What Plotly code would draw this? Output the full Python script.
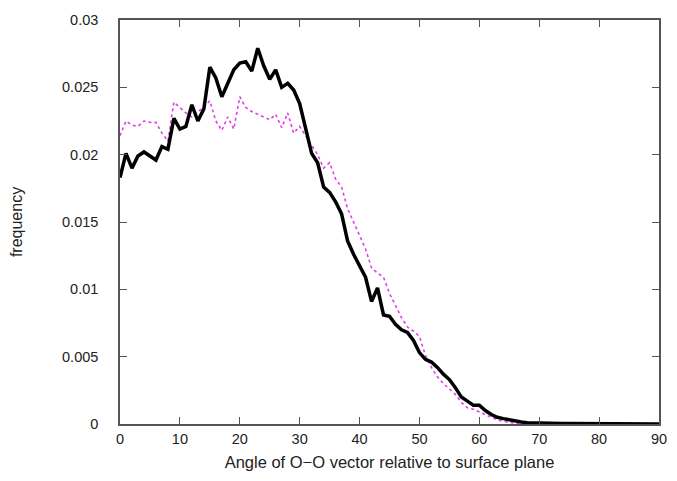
import plotly.graph_objects as go

angle = list(range(0, 91))

black_freq = [
    0.0183, 0.0201, 0.0190, 0.0199, 0.0202, 0.0199, 0.0196, 0.0206, 0.0204, 0.0227,
    0.0219, 0.0221, 0.0237, 0.0225, 0.0234, 0.0265, 0.0257, 0.0243, 0.0253, 0.0263,
    0.0268, 0.0269, 0.0262, 0.0279, 0.0266, 0.0256, 0.0263, 0.0250, 0.0253, 0.0248,
    0.0238, 0.0220, 0.0201, 0.0194, 0.0176, 0.0172, 0.0165, 0.0156, 0.0136, 0.0126,
    0.0117, 0.0109, 0.0091, 0.0101, 0.0081, 0.0080, 0.0074, 0.0070, 0.0068, 0.0062,
    0.0053, 0.0048, 0.0046, 0.0042, 0.0037, 0.0033, 0.0027, 0.0020, 0.0017, 0.0014,
    0.0014, 0.0010, 0.0007, 0.0005, 0.0004, 0.0003, 0.0002, 0.00015, 0.0001, 0.0001,
    0.0001, 0.00008, 0.00006, 0.00005, 0.00004, 0.00003, 0.00003, 0.00002, 0.00002, 0.00001,
    0.00001, 0.0, 0.0, 0.0, 0.0, 0.0, 0.0, 0.0, 0.0, 0.0, 0.0,
]

pink_freq = [
    0.0214, 0.0225, 0.0222, 0.0221, 0.0225, 0.0224, 0.0224, 0.0216, 0.0210, 0.0239,
    0.0235, 0.0231, 0.0228, 0.0232, 0.0235, 0.0240, 0.0225, 0.0218, 0.0228, 0.0219,
    0.0243, 0.0235, 0.0232, 0.0230, 0.0228, 0.0226, 0.0230, 0.0220, 0.0231, 0.0216,
    0.0221, 0.0214, 0.0208, 0.0200, 0.0190, 0.0194, 0.0182, 0.0176, 0.0160, 0.0150,
    0.0140, 0.0130, 0.0116, 0.0112, 0.0109, 0.0097, 0.0088, 0.0079, 0.0072, 0.0069,
    0.0065, 0.0051, 0.0042, 0.0035, 0.0030, 0.0026, 0.0022, 0.0016, 0.0012, 0.0011,
    0.0009, 0.0007, 0.0005, 0.0003, 0.0002, 0.0001, 0.00005, 0.00003, 0.00002, 0.00001,
    0.0, 0.0, 0.0, 0.0, 0.0, 0.0, 0.0, 0.0, 0.0, 0.0,
    0.0, 0.0, 0.0, 0.0, 0.0, 0.0, 0.0, 0.0, 0.0, 0.0, 0.0,
]

x_ticks = [0, 10, 20, 30, 40, 50, 60, 70, 80, 90]
y_ticks = [0, 0.005, 0.01, 0.015, 0.02, 0.025, 0.03]
y_tick_labels = ["0", "0.005", "0.01", "0.015", "0.02", "0.025", "0.03"]

FONT = "Liberation Sans, Arial, sans-serif"

fig = go.Figure()
fig.add_trace(go.Scatter(x=angle, y=pink_freq, mode="lines",
                         line=dict(color="#e040e8", width=1.6, dash="dot"),
                         showlegend=False))
fig.add_trace(go.Scatter(x=angle, y=black_freq, mode="lines",
                         line=dict(color="black", width=3.5),
                         showlegend=False))

axis_common = dict(showgrid=False, zeroline=False, showline=True, mirror="ticks",
                   linecolor="#555555", linewidth=1.5, ticks="inside", ticklen=7,
                   tickcolor="#555555", tickwidth=1.2, automargin=False,
                   tickfont=dict(family=FONT, size=14.5, color="#222222"))

fig.update_layout(
    width=669, height=473,
    margin=dict(l=112, r=18, t=12, b=57),
    paper_bgcolor="white", plot_bgcolor="white",
    xaxis=dict(range=[0, 90], tickvals=x_ticks,
               ticklabelstandoff=1,
               title=dict(text="Angle of O\u2212O vector relative to surface plane",
                          font=dict(family=FONT, size=16.5, color="#222222"),
                          standoff=10),
               **axis_common),
    yaxis=dict(range=[0, 0.03], tickvals=y_ticks, ticktext=y_tick_labels,
               ticklabelstandoff=17,
               title=dict(text="frequency",
                          font=dict(family=FONT, size=16, color="#222222"),
                          standoff=39),
               **axis_common),
)

fig.write_html("out.html")
